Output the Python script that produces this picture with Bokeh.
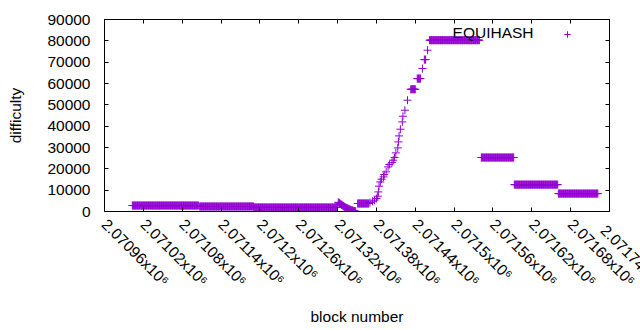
import math
from bokeh.plotting import figure
from bokeh.models import (FixedTicker, LinearAxis, CustomJSTickFormatter, Legend,
                          LegendItem, ColumnDataSource, Range1d, Label)
from bokeh.embed import file_html
from bokeh.resources import INLINE

# ---- axis ticks ----
x_ticks = [2070960, 2071020, 2071080, 2071140, 2071200, 2071260, 2071320,
           2071380, 2071440, 2071500, 2071560, 2071620, 2071680, 2071740]
x_tick_labels = ["2.07096x10⁶", "2.07102x10⁶", "2.07108x10⁶", "2.07114x10⁶",
                 "2.0712x10⁶", "2.07126x10⁶", "2.07132x10⁶", "2.07138x10⁶",
                 "2.07144x10⁶", "2.0715x10⁶", "2.07156x10⁶", "2.07162x10⁶",
                 "2.07168x10⁶", "2.07174x10⁶"]
y_ticks = [0, 10000, 20000, 30000, 40000, 50000, 60000, 70000, 80000, 90000]
y_tick_labels = ["0", "10000", "20000", "30000", "40000", "50000", "60000",
                 "70000", "80000", "90000"]

# ---- data: runs of consecutive blocks with constant difficulty ----
run_start = [2071003, 2071107, 2071191, 2071351, 2071433, 2071443, 2071454,
             2071462, 2071542, 2071593, 2071661]
run_end = [2071105, 2071190, 2071320, 2071368, 2071440, 2071448, 2071456,
           2071539, 2071592, 2071660, 2071722]
run_difficulty = [2800, 2340, 1880, 3750, 57300, 62300, 71200,
                  80300, 25300, 12600, 8400]

# ---- data: the dip after the third plateau (one point per block) ----
dip_blocks = [2071321, 2071322, 2071323, 2071324, 2071325, 2071326, 2071327,
              2071328, 2071329, 2071330, 2071331, 2071332, 2071333, 2071334,
              2071335, 2071336, 2071337, 2071338, 2071339, 2071340, 2071341,
              2071342, 2071343, 2071344, 2071345, 2071346, 2071347, 2071348]
dip_difficulty = [4300, 4100, 3900, 3650, 3400, 3200, 2950, 2750, 2550, 2350,
                  2150, 1950, 1800, 1650, 1500, 1350, 1200, 1050, 900, 780,
                  660, 550, 450, 360, 280, 200, 140, 100]

# ---- data: the climb ----
rise_blocks = [2071370, 2071374, 2071377, 2071380, 2071382, 2071383, 2071384,
               2071386, 2071388, 2071391, 2071392, 2071395, 2071398, 2071400,
               2071404, 2071406, 2071408, 2071410, 2071413, 2071414, 2071415,
               2071417, 2071420, 2071421, 2071424, 2071428, 2071451, 2071459]
rise_difficulty = [4200, 4830, 5300, 6100, 7170, 9190, 11860,
                   13875, 15140, 16220, 17340, 18560, 20900, 22030,
                   22970, 24050, 25310, 27470, 29810, 32620, 35440,
                   38580, 42000, 44670, 47480, 52170, 67030, 75610]

series_name = "EQUIHASH"

blocks, difficulty = [], []
for s, e, v in zip(run_start, run_end, run_difficulty):
    for b in range(s, e + 1):
        blocks.append(b)
        difficulty.append(v)
blocks += dip_blocks
difficulty += dip_difficulty
blocks += rise_blocks
difficulty += rise_difficulty

src = ColumnDataSource(data=dict(block=blocks, difficulty=difficulty))

FONT = "Liberation Sans"
FS = "15.5px"
COLOR = "#9400D3"

p = figure(frame_width=505, frame_height=192, output_backend="svg",
           toolbar_location=None,
           x_range=Range1d(x_ticks[0], x_ticks[-1]),
           y_range=Range1d(y_ticks[0], y_ticks[-1]),
           min_border_left=104, min_border_right=31, min_border_top=19,
           min_border_bottom=119, background_fill_color="white",
           border_fill_color="white")
p.xgrid.visible = False
p.ygrid.visible = False
p.outline_line_color = "black"
p.outline_line_width = 1


def style_axis(ax):
    ax.axis_line_color = "black"
    ax.major_tick_line_color = "black"
    ax.major_tick_in = 4
    ax.major_tick_out = 0
    ax.minor_tick_line_color = None
    ax.major_label_text_font = FONT
    ax.major_label_text_font_size = FS
    ax.major_label_text_color = "black"
    ax.axis_label_text_font = FONT
    ax.axis_label_text_font_size = FS
    ax.axis_label_text_font_style = "normal"
    ax.axis_label_text_color = "black"


blank = CustomJSTickFormatter(code="return ''")

# the axis draws all but the last tick label; the last one runs off the
# right edge of the picture (as in the original) and is drawn separately so
# that the axis does not push it back inside
axis_overrides = dict(zip(x_ticks, x_tick_labels))
axis_overrides[x_ticks[-1]] = ""

xa = p.xaxis[0]
style_axis(xa)
xa.ticker = FixedTicker(ticks=x_ticks)
xa.major_label_overrides = axis_overrides
xa.major_label_orientation = -math.pi / 4
xa.major_label_standoff = 10
xa.axis_label = "block number"
xa.axis_label_standoff = 10

ya = p.yaxis[0]
style_axis(ya)
ya.ticker = FixedTicker(ticks=y_ticks)
ya.major_label_overrides = dict(zip(y_ticks, y_tick_labels))
ya.major_label_standoff = 14
ya.axis_label = "difficulty"
ya.axis_label_standoff = 20

top = LinearAxis(ticker=FixedTicker(ticks=x_ticks), formatter=blank)
style_axis(top)
top.major_label_text_font_size = "0px"
top.major_label_standoff = 0
p.add_layout(top, "above")
right = LinearAxis(ticker=FixedTicker(ticks=y_ticks), formatter=blank)
style_axis(right)
right.major_label_text_font_size = "0px"
right.major_label_standoff = 0
p.add_layout(right, "right")

# last tick label, in the right-hand side panel so the frame does not clip it
p.add_layout(Label(x=x_ticks[-1], y=-10, y_units="screen",
                   text=x_tick_labels[-1], angle=-math.pi / 4,
                   text_align="left", text_baseline="top", text_font=FONT,
                   text_font_size=FS, text_color="black"), "right")

r = p.scatter(x="block", y="difficulty", source=src, marker="cross", size=8,
              line_color=COLOR, line_width=1)

# gnuplot-style key: text on the left, sample on the right
legend = Legend(items=[LegendItem(label="", renderers=[r])],
                location=(453, 169), glyph_width=20, glyph_height=16,
                label_standoff=0, label_width=0, padding=0, margin=0,
                spacing=0, border_line_color=None, background_fill_alpha=0,
                label_text_font=FONT, label_text_font_size=FS)
p.add_layout(legend)
p.add_layout(Label(x=429, y=179, x_units="screen", y_units="screen",
                   text=series_name, text_align="right",
                   text_baseline="middle", text_font=FONT,
                   text_font_size=FS, text_color="black"))

open("out.html", "w").write(file_html(p, INLINE))
